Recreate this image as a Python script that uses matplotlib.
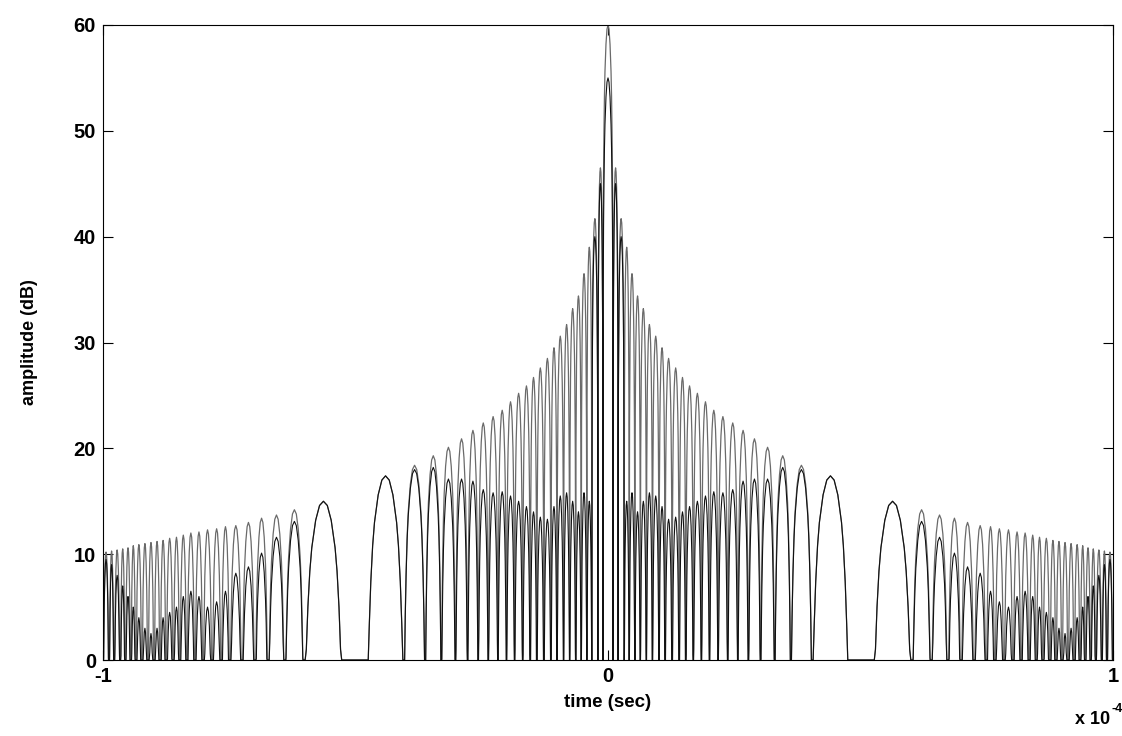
import numpy as np
import matplotlib
matplotlib.use('Agg')
import matplotlib.pyplot as plt

plt.rcParams['font.family'] = ['Liberation Sans', 'DejaVu Sans']

# zeros of the side lobes left of the main peak (time in 1e-4 s), right side is the mirror
null_t = [-1.000, -0.988, -0.978, -0.966, -0.956, -0.945, -0.935, -0.923, -0.911, -0.899,
          -0.887, -0.875, -0.861, -0.848, -0.834, -0.818, -0.802, -0.784, -0.766, -0.749,
          -0.725, -0.699, -0.673, -0.640, -0.602, -0.525,
          -0.477, -0.404, -0.362, -0.330, -0.302, -0.278, -0.257, -0.237, -0.218, -0.201,
          -0.185, -0.169, -0.154, -0.141, -0.127, -0.113, -0.101, -0.088, -0.076, -0.064,
          -0.053, -0.042, -0.032, -0.020, -0.010]

# lobe peaks in dB (one per pair of zeros), grey trace
peak_grey = [10.2, 10.3, 10.4, 10.5, 10.6, 10.8, 10.9, 11.0, 11.1, 11.2,
             11.3, 11.5, 11.6, 11.8, 12.0, 12.1, 12.3, 12.4, 12.6, 12.7,
             13.0, 13.4, 13.7, 14.2, 15.0,
             0.0,
             17.4, 18.4, 19.3, 20.1, 20.9, 21.7, 22.4, 23.0, 23.6, 24.4,
             25.2, 25.9, 26.7, 27.6, 28.5, 29.5, 30.6, 31.7, 33.2, 34.4,
             36.5, 39.0, 41.7, 46.5]

# black trace
peak_black = [9.5, 9.0, 8.0, 7.0, 6.0, 5.0, 4.0, 3.0, 2.5, 3.0,
              4.0, 4.5, 5.0, 6.0, 6.5, 6.0, 5.0, 5.5, 6.5, 8.2,
              8.8, 10.1, 11.6, 13.1, 15.0,
              0.0,
              17.4, 18.0, 18.2, 17.1, 17.1, 16.9, 16.1, 15.8, 15.9, 15.5,
              15.0, 14.5, 14.0, 13.5, 13.3, 14.5, 15.5, 15.8, 15.0, 14.0,
              15.8, 15.0, 40.0, 45.0]

main_grey = 60.0
main_black = 55.0

# shape of one lobe (position inside lobe, dB below its peak)
shape_pos = np.array([0, 0.03, 0.06, 0.1, 0.15, 0.2, 0.3, 0.4, 0.5,
                      0.6, 0.7, 0.8, 0.85, 0.9, 0.94, 0.97, 1])
shape_db = np.array([-60, -20, -14, -10, -6.6, -4.4, -1.8, -0.4, 0,
                     -0.4, -1.8, -4.4, -6.6, -10, -14, -20, -60])


def lobes(nulls, peaks):
    xs, ys = [], []
    for a, b, h in zip(nulls[:-1], nulls[1:], peaks):
        xs.append(a + (b - a) * shape_pos)
        ys.append(np.clip(h + shape_db, 0, None))
    return np.concatenate(xs), np.concatenate(ys)


nulls_all = null_t + [-n for n in reversed(null_t)]
xg, yg = lobes(nulls_all, peak_grey + [main_grey] + peak_grey[::-1])
xb, yb = lobes(nulls_all, peak_black + [main_black] + peak_black[::-1])

fig = plt.figure(figsize=(11.22, 7.36), dpi=100)
ax = fig.add_axes([103 / 1122, 1 - 660 / 736, 1010 / 1122, 635 / 736])

ax.plot(xg, yg, color='#6a6a6a', linewidth=0.9)
ax.plot(xb, yb, color='#111111', linewidth=0.8)

ax.set_xlim(-1, 1)
ax.set_ylim(0, 60)
ax.set_xticks([-1, 0, 1])
ax.set_xticklabels(['-1', '0', '1'])
ax.set_yticks(range(0, 61, 10))
ax.tick_params(direction='in', length=7, width=0.8, top=True, right=True,
               labelsize=14.5, pad=5)
for lab in ax.get_xticklabels() + ax.get_yticklabels():
    lab.set_fontweight('bold')
for s in ax.spines.values():
    s.set_linewidth(0.8)

ax.set_xlabel('time (sec)', fontsize=13.5, fontweight='bold', labelpad=6)
ax.set_ylabel('amplitude (dB)', fontsize=13, fontweight='bold', labelpad=26)

fig.text(1110 / 1122, 1 - 719 / 736, 'x 10', fontsize=13, fontweight='bold',
         ha='right', va='center')
fig.text(1111 / 1122, 1 - 709 / 736, '-4', fontsize=9, fontweight='bold',
         ha='left', va='center')

fig.savefig('out.png', dpi=100)
